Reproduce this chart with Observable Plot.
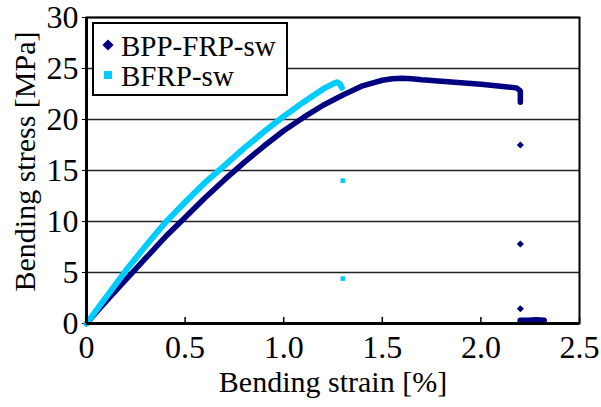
<!DOCTYPE html>
<html><head><meta charset="utf-8">
<script src="https://cdn.jsdelivr.net/npm/d3@7"></script>
<script src="https://cdn.jsdelivr.net/npm/@observablehq/plot@0.6"></script>
<style>
body{margin:0;background:#fff;}
#chart{width:601px;height:407px;}
#chart svg, #chart svg text{font-family:"Liberation Serif","Times New Roman",Times,serif !important;}
</style>
</head><body><div id="chart"></div>
<script>
const seriesNames = ["BPP-FRP-sw", "BFRP-sw"];
const seriesColors = ["#000080", "#00CCFF"];

// BPP-FRP-sw main curve
const bppStrain = [0, 0.05, 0.1, 0.2, 0.3, 0.4, 0.5, 0.6, 0.7, 0.8, 0.9, 1.0, 1.1, 1.2, 1.3, 1.4, 1.5, 1.55, 1.6, 1.65, 1.7, 1.8, 1.9, 2.0, 2.1, 2.18, 2.2, 2.2];
const bppStress = [0, 1.1, 2.2, 4.3, 6.4, 8.5, 10.4, 12.3, 14.1, 15.8, 17.4, 18.9, 20.2, 21.4, 22.4, 23.3, 23.85, 24.0, 24.05, 24.0, 23.9, 23.75, 23.6, 23.45, 23.25, 23.1, 22.8, 21.7];
// BPP-FRP-sw failure points
const bppDropStrain = [2.2, 2.2, 2.2];
const bppDropStress = [17.5, 7.8, 1.45];
const bppTailStrain = [2.2, 2.24, 2.28, 2.32];
const bppTailStress = [0.3, 0.3, 0.35, 0.3];

// BFRP-sw main curve
const bfrpStrain = [0, 0.1, 0.2, 0.3, 0.4, 0.5, 0.6, 0.7, 0.8, 0.9, 1.0, 1.1, 1.2, 1.25, 1.27, 1.285, 1.295];
const bfrpStress = [0, 2.6, 5.2, 7.6, 9.9, 11.9, 13.8, 15.5, 17.2, 18.8, 20.3, 21.7, 23.0, 23.5, 23.65, 23.5, 23.1];
// BFRP-sw failure points
const bfrpDropStrain = [1.3, 1.3];
const bfrpDropStress = [14.0, 4.4];

const xTicks = [0, 0.5, 1.0, 1.5, 2.0, 2.5];
const yTicks = [0, 5, 10, 15, 20, 25, 30];
const xLabel = "Bending strain [%]";
const yLabel = "Bending stress [MPa]";

const zip = (xs, ys, s) => xs.map((x, i) => ({x, y: ys[i], s}));
const bppLine = zip(bppStrain, bppStress, seriesNames[0]);
const bppTail = zip(bppTailStrain, bppTailStress, seriesNames[0]);
const bppDots = zip(bppDropStrain, bppDropStress, seriesNames[0]);
const bfrpLine = zip(bfrpStrain, bfrpStress, seriesNames[1]);
const bfrpDots = zip(bfrpDropStrain, bfrpDropStress, seriesNames[1]);

const diamond = d3.symbolDiamond2 || d3.symbolDiamond;
const font = "Liberation Serif, Times New Roman, serif";

const plot = Plot.plot({
  width: 601, height: 407,
  marginLeft: 86, marginRight: 22, marginTop: 17, marginBottom: 84,
  style: {fontFamily: font, fontSize: "32px", color: "#000", background: "#fff", overflow: "visible"},
  x: {domain: [0, 2.5]},
  y: {domain: [0, 30]},
  marks: [
    Plot.gridY(yTicks, {stroke: "#222", strokeOpacity: 1, strokeWidth: 1.5}),
    Plot.ruleX(xTicks, {y1: 0, y2: 0.6, stroke: "#000", strokeWidth: 1.5}),
    Plot.axisX(xTicks, {tickSize: 0, tickPadding: 12, label: null, tickFormat: d => d === 0 ? "0" : d.toFixed(1), fontSize: 32}),
    Plot.axisY(yTicks, {tickSize: 4, tickPadding: 4, label: null, fontSize: 32}),
    Plot.line(bppLine, {x: "x", y: "y", stroke: seriesColors[0], strokeWidth: 5.5, strokeLinecap: "round", strokeLinejoin: "round"}),
    Plot.line(bppTail, {x: "x", y: "y", stroke: seriesColors[0], strokeWidth: 6, strokeLinecap: "round"}),
    Plot.dot(bppDots, {x: "x", y: "y", symbol: diamond, r: 3.2, fill: seriesColors[0], stroke: "none"}),
    Plot.line(bfrpLine, {x: "x", y: "y", stroke: seriesColors[1], strokeWidth: 6, strokeLinecap: "round", strokeLinejoin: "round"}),
    Plot.dot(bfrpDots, {x: "x", y: "y", symbol: "square", r: 2.6, fill: seriesColors[1], stroke: "none"}),
    Plot.frame({stroke: "#000", strokeWidth: 2}),
    Plot.ruleY([0], {stroke: "#000", strokeWidth: 3}),
    Plot.ruleX([0], {stroke: "#000", strokeWidth: 3}),
    Plot.text([xLabel], {frameAnchor: "bottom", dy: 59, lineAnchor: "middle", textAnchor: "middle", fontSize: 30, fill: "#000"}),
    Plot.text([yLabel], {frameAnchor: "left", dx: -61, dy: -9, rotate: -90, textAnchor: "middle", lineAnchor: "middle", fontSize: 30, fill: "#000"})
  ]
});

// legend inside the plot area
const svg = d3.select(plot);
const lg = svg.append("g").attr("font-size", 29).attr("text-anchor", "start");
lg.append("rect").attr("x", 93).attr("y", 23).attr("width", 194).attr("height", 72)
  .attr("fill", "#fff").attr("stroke", "#000").attr("stroke-width", 2);
const syms = [diamond, d3.symbolSquare];
const sizes = [80, 64];
seriesNames.forEach((name, i) => {
  const cy = 45 + i * 30;
  lg.append("path").attr("d", d3.symbol(syms[i], sizes[i])())
    .attr("transform", `translate(108,${cy})`).attr("fill", seriesColors[i]);
  lg.append("text").attr("x", 121).attr("y", cy + 11).attr("fill", "#000").text(name);
});

document.getElementById("chart").appendChild(plot);
</script>
</body></html>
